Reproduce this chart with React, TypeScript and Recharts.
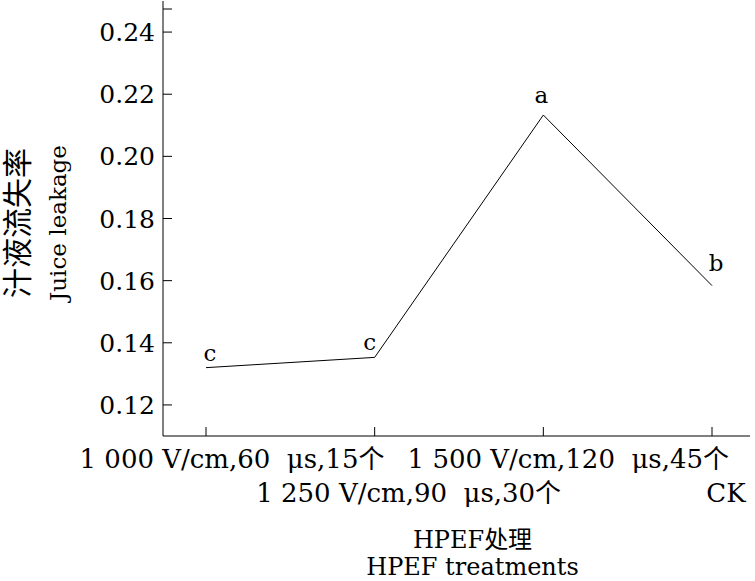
import React from 'react';
import { LineChart, Line, XAxis, YAxis, LabelList } from 'recharts';

const treatments = [
  '1 000 V/cm,60  μs,15个',
  '1 250 V/cm,90  μs,30个',
  '1 500 V/cm,120  μs,45个',
  'CK',
];
const leakage = [0.132, 0.1353, 0.2133, 0.1584];
const letters = ['c', 'c', 'a', 'b'];
const yTicks = [0.12, 0.14, 0.16, 0.18, 0.2, 0.22, 0.24, 0.25];

const data = treatments.map((name, i) => ({ name, leakage: leakage[i], letter: letters[i] }));

const FONT = '"DejaVu Serif", "Noto Sans CJK SC", serif';

// nudges for the significance letters, per point
const letterShift = [
  { dx: 4, dy: -7 },
  { dx: -5, dy: -7 },
  { dx: -2, dy: -12 },
  { dx: 4, dy: -15 },
];
// the category labels sit a little right of their ticks
const tickShift = [26, 34, 25, 14];

const YTick = (props: any) => {
  const { x, y, payload } = props;
  const v = payload.value;
  return (
    <g>
      <line x1={x + 8} y1={y} x2={x + 17} y2={y} stroke="#000" strokeWidth={1} />
      {v < 0.25 && (
        <text x={x} y={y} dy={9} textAnchor="end" fontSize={25} fill="#000" fontFamily={FONT}>
          {v.toFixed(2)}
        </text>
      )}
    </g>
  );
};

const XTick = (props: any) => {
  const { x, y, payload, index } = props;
  const row = index % 2 === 0 ? 32 : 66;
  return (
    <g>
      <line x1={x} y1={y} x2={x} y2={y - 9} stroke="#000" strokeWidth={1} />
      <text
        x={x + (tickShift[index] || 0)}
        y={y + row}
        textAnchor="middle"
        fontSize={26}
        fill="#000"
        fontFamily={FONT}
        style={{ whiteSpace: 'pre' }}
      >
        {payload.value}
      </text>
    </g>
  );
};

const XTitle = (props: any) => {
  const { viewBox } = props;
  const cx = viewBox.x + viewBox.width / 2 + 16;
  const y = viewBox.y;
  return (
    <g fontFamily={FONT} fontSize={24} fill="#000">
      <text x={cx} y={y + 112} textAnchor="middle">HPEF处理</text>
      <text x={cx} y={y + 139} textAnchor="middle">HPEF treatments</text>
    </g>
  );
};

const YTitle = () => {
  const cy = 223;
  return (
    <g fontFamily={FONT} fill="#000">
      <text transform={`translate(28, ${cy}) rotate(-90)`} textAnchor="middle" fontSize={30}>汁液流失率</text>
      <text transform={`translate(66, ${cy}) rotate(-90)`} textAnchor="middle" fontSize={23}>Juice leakage</text>
    </g>
  );
};

const LetterLabel = (props: any) => {
  const { x, y, value, index } = props;
  const s = letterShift[index] || { dx: 0, dy: -8 };
  return (
    <text x={x + s.dx} y={y + s.dy} textAnchor="middle" fontSize={23} fill="#000" fontFamily={FONT}>
      {value}
    </text>
  );
};

export default function App() {
  return (
    <div style={{ position: 'absolute', left: 0, top: 0, background: '#fff' }}>
      <LineChart width={755} height={581} data={data} margin={{ top: 1, right: 5, left: 0, bottom: 0 }}>
        <XAxis
          dataKey="name"
          height={145}
          interval={0}
          padding={{ left: 43, right: 38 }}
          tickSize={0}
          tickMargin={0}
          tick={<XTick />}
          axisLine={{ stroke: '#000', strokeWidth: 1 }}
          label={<XTitle />}
        />
        <YAxis
          width={163}
          domain={[0.11, 0.25]}
          ticks={yTicks}
          type="number"
          allowDataOverflow
          tickSize={0}
          tickMargin={8}
          tick={<YTick />}
          axisLine={{ stroke: '#000', strokeWidth: 1 }}
          label={<YTitle />}
        />
        <Line
          type="linear"
          dataKey="leakage"
          stroke="#000"
          strokeWidth={1}
          dot={false}
          activeDot={false}
          isAnimationActive={false}
        >
          <LabelList dataKey="letter" content={<LetterLabel />} />
        </Line>
      </LineChart>
    </div>
  );
}
